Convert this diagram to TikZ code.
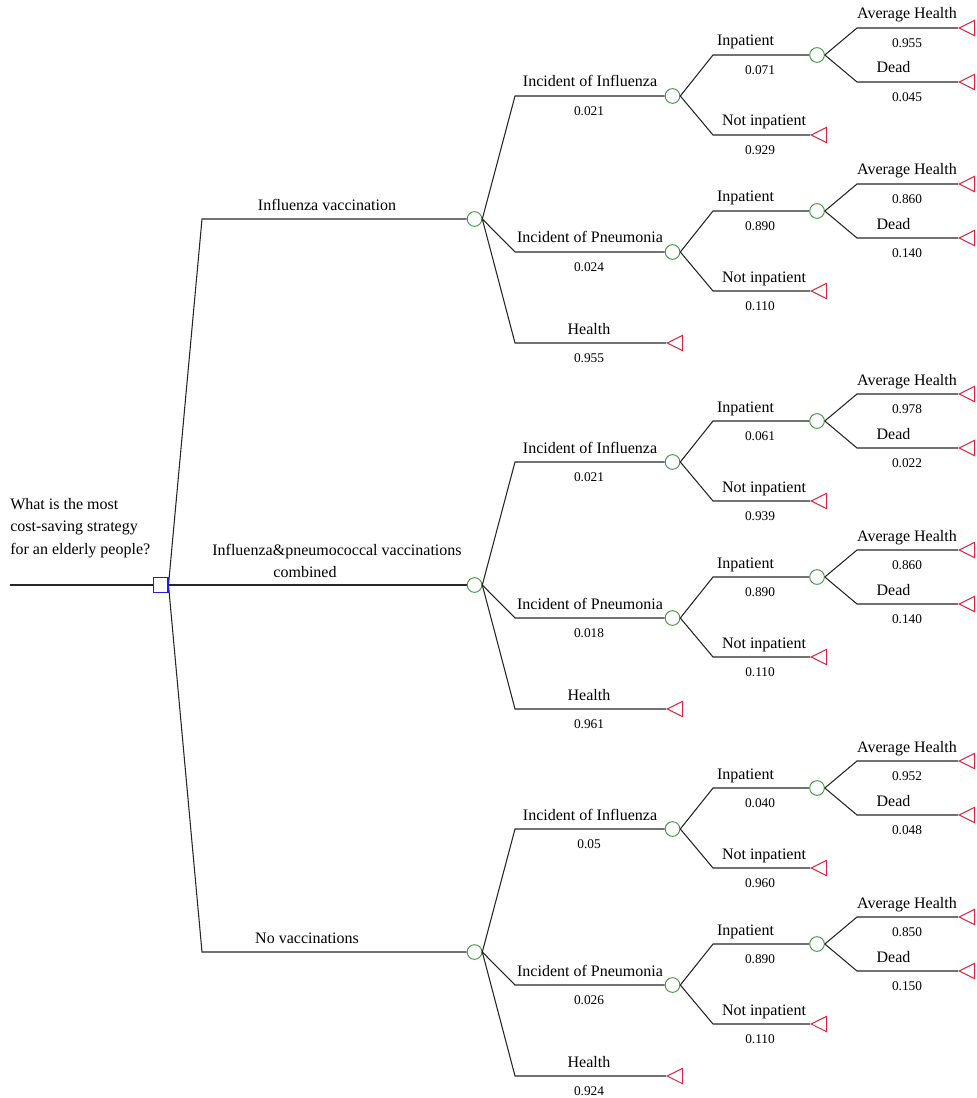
\documentclass[tikz,border=0pt]{standalone}
\usepackage{fontspec}
\setmainfont{Liberation Serif}
\usetikzlibrary{shapes.geometric,backgrounds}
\definecolor{dblue}{RGB}{30,30,230}
\definecolor{cgreen}{RGB}{60,150,60}
\definecolor{tred}{RGB}{220,35,60}
\tikzset{
  br/.style={draw=black!85, line width=0.8pt},
  decis/.style={rectangle, draw=dblue, fill=white, line width=1pt, minimum size=11pt, inner sep=0pt},
  chance/.style={circle, draw=cgreen, line width=0.7pt, minimum size=11pt, inner sep=0pt},
  term/.style={isosceles triangle, shape border rotate=180, isosceles triangle stretches,
     minimum width=11.5pt, minimum height=11.5pt, inner sep=0pt, draw=tred, line width=0.7pt, anchor=apex},
  lab/.style={font=\fontsize{12}{14}\selectfont, inner sep=0pt, anchor=base},
  num/.style={font=\fontsize{10}{12}\selectfont, inner sep=0pt, anchor=base},
}
% #1 parent, #2 prefix, #3 y, #4 label, #5 prob, #6 inpatient prob, #7 AH prob, #8 dead prob, #9 not inpatient prob
\newcommand{\dtdisease}[9]{%
  \coordinate (#2e) at (515,#3);
  \node[chance] (#2) at (672.5,#3) {};
  \draw[br] (#1.east) -- (#2e) -- (#2.west);
  \node[lab] (#2l) at (590,{#3-9}) {#4};
  \node[num] (#2p) at (589,{#3+19.5}) {#5};
  % inpatient
  \coordinate (#2ie) at (713,{#3-41});
  \node[chance] (#2i) at (817,{#3-41}) {};
  \draw[br] (#2.east) -- (#2ie) -- (#2i.west);
  \node[lab] (#2il) at (745.5,{#3-50}) {Inpatient};
  \node[num] (#2ip) at (760,{#3-21.5}) {#6};
  % average health
  \coordinate (#2ae) at (857,{#3-68});
  \node[term] (#2a) at (958,{#3-68}) {};
  \draw[br] (#2i.east) -- (#2ae) -- (#2a.apex);
  \node[lab] (#2al) at (907,{#3-77}) {Average Health};
  \node[num] (#2ap) at (907,{#3-48.5}) {#7};
  % dead
  \coordinate (#2de) at (857,{#3-14});
  \node[term] (#2d) at (958,{#3-14}) {};
  \draw[br] (#2i.east) -- (#2de) -- (#2d.apex);
  \node[lab] (#2dl) at (893.5,{#3-23}) {Dead};
  \node[num] (#2dp) at (907,{#3+5.5}) {#8};
  % not inpatient
  \coordinate (#2ne) at (713,{#3+39});
  \node[term] (#2n) at (810,{#3+39}) {};
  \draw[br] (#2.east) -- (#2ne) -- (#2n.apex);
  \node[lab] (#2nl) at (764,{#3+30}) {Not inpatient};
  \node[num] (#2np) at (760,{#3+58.5}) {#9};
}
% #1 parent chance node, #2 prefix, #3 y, #4 prob
\newcommand{\dthealth}[4]{%
  \coordinate (#2e) at (515,#3);
  \node[term] (#2) at (666,#3) {};
  \draw[br] (#1.east) -- (#2e) -- (#2.apex);
  \node[lab] (#2l) at (589,{#3-9}) {Health};
  \node[num] (#2p) at (589,{#3+19.5}) {#4};
}
\begin{document}
\begin{tikzpicture}[x=0.75pt,y=-0.75pt]
\useasboundingbox (0,0) rectangle (976,1098);
% root
\coordinate (root) at (10,585);
\node[decis] (dec) at (160.5,585) {};
\node[lab, anchor=base west] (q1) at (10,509) {What is the most};
\node[lab, anchor=base west] (q2) at (10,531.5) {cost-saving strategy};
\node[lab, anchor=base west] (q3) at (10,554) {for an elderly people?};
% top-level chance nodes
\coordinate (b1e) at (202,219);
\node[chance] (b1) at (474.5,219) {};
\node[chance] (b2) at (474.5,585) {};
\coordinate (b3e) at (202,952);
\node[chance] (b3) at (474.5,952) {};
\begin{scope}[on background layer]
  \draw[br] (root) -- (dec.west);
  \draw[br] (dec.east) -- (b1e) -- (b1.west);
  \draw[br] (dec.east) -- (b2.west);
  \draw[br] (dec.east) -- (b3e) -- (b3.west);
\end{scope}
% branch 1
\node[lab] (b1l) at (327,210) {Influenza vaccination};
\dtdisease{b1}{bai}{96}{Incident of Influenza}{0.021}{0.071}{0.955}{0.045}{0.929}
\dtdisease{b1}{bap}{252}{Incident of Pneumonia}{0.024}{0.890}{0.860}{0.140}{0.110}
\dthealth{b1}{bah}{343}{0.955}
% branch 2
\node[lab] (b2l) at (337,555) {Influenza\&pneumococcal vaccinations};
\node[lab] (b2m) at (305,577) {combined};
\dtdisease{b2}{bbi}{462}{Incident of Influenza}{0.021}{0.061}{0.978}{0.022}{0.939}
\dtdisease{b2}{bbp}{618}{Incident of Pneumonia}{0.018}{0.890}{0.860}{0.140}{0.110}
\dthealth{b2}{bbh}{709}{0.961}
% branch 3
\node[lab] (b3l) at (307,943) {No vaccinations};
\dtdisease{b3}{bci}{829}{Incident of Influenza}{0.05}{0.040}{0.952}{0.048}{0.960}
\dtdisease{b3}{bcp}{985}{Incident of Pneumonia}{0.026}{0.890}{0.850}{0.150}{0.110}
\dthealth{b3}{bch}{1076}{0.924}
\end{tikzpicture}
\end{document}
